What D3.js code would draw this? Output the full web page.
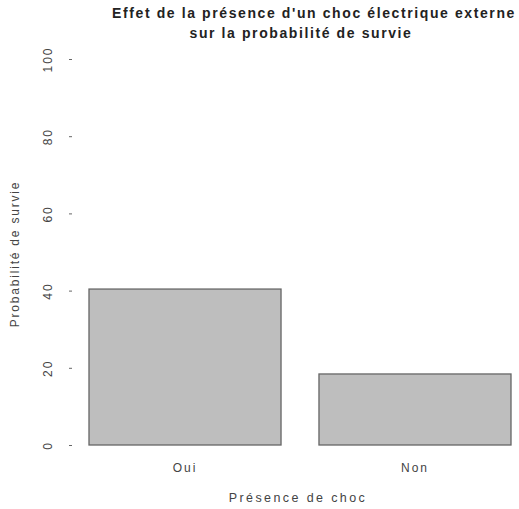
<!DOCTYPE html>
<html>
<head>
<meta charset="utf-8">
<script src="https://cdn.jsdelivr.net/npm/d3@7"></script>
<style>
  body { margin: 0; background: #fff; }
  text { font-family: "Liberation Sans", Arial, sans-serif; }
</style>
</head>
<body>
<div id="chart"></div>
<script>
// donnees
var categories = ["Oui", "Non"];
var valeurs = [40.4, 18.4];
var yTicks = [0, 20, 40, 60, 80, 100];
var titre = ["Effet de la présence d'un choc électrique externe", "sur la probabilité de survie"];

var width = 519, height = 509;

var svg = d3.select("#chart").append("svg")
  .attr("width", width)
  .attr("height", height);

var y = d3.scaleLinear().domain([0, 100]).range([445, 59]);
var x = d3.scaleBand().domain(categories).range([89, 511]).paddingInner(0.165).paddingOuter(0);

// barres
svg.selectAll(".bar")
  .data(valeurs)
  .enter().append("rect")
  .attr("class", "bar")
  .attr("x", function(d, i) { return x(categories[i]); })
  .attr("y", function(d) { return y(d); })
  .attr("width", x.bandwidth())
  .attr("height", function(d) { return y(0) - y(d); })
  .style("fill", "#bebebe")
  .style("stroke", "#666")
  .style("stroke-width", 1.3);

// axe y (ticks sans ligne)
var yAxis = svg.append("g").attr("transform", "translate(72,0)")
  .call(d3.axisLeft(y).tickValues(yTicks).tickSize(3).tickPadding(14));
yAxis.select(".domain").remove();
yAxis.selectAll(".tick line").attr("stroke", "#666");
yAxis.selectAll(".tick text")
  .attr("transform", "rotate(-90)")
  .attr("x", 0).attr("y", -24)
  .attr("dy", "0.35em")
  .style("text-anchor", "middle")
  .style("font-size", "12px")
  .style("letter-spacing", "2px")
  .style("fill", "#444");

// etiquettes x
svg.selectAll(".xlab")
  .data(categories)
  .enter().append("text")
  .attr("x", function(d) { return x(d) + x.bandwidth() / 2; })
  .attr("y", 472)
  .attr("text-anchor", "middle")
  .style("font-size", "12px")
  .style("letter-spacing", "2px")
  .style("fill", "#444")
  .text(function(d) { return d; });

// titres d'axes
svg.append("text")
  .attr("x", 298).attr("y", 502)
  .attr("text-anchor", "middle")
  .style("font-size", "12.5px")
  .style("letter-spacing", "2.4px")
  .style("fill", "#444")
  .text("Présence de choc");

svg.append("text")
  .attr("transform", "translate(19,254) rotate(-90)")
  .attr("text-anchor", "middle")
  .style("font-size", "12px")
  .style("letter-spacing", "1.8px")
  .style("fill", "#444")
  .text("Probabilité de survie");

// titre
svg.append("text")
  .attr("x", 314).attr("y", 18)
  .attr("text-anchor", "middle")
  .style("font-size", "14px")
  .style("font-weight", "bold")
  .style("letter-spacing", "1.6px")
  .style("fill", "#222")
  .text(titre[0]);
svg.append("text")
  .attr("x", 301).attr("y", 38)
  .attr("text-anchor", "middle")
  .style("font-size", "14px")
  .style("font-weight", "bold")
  .style("letter-spacing", "1.6px")
  .style("fill", "#222")
  .text(titre[1]);
</script>
</body>
</html>
